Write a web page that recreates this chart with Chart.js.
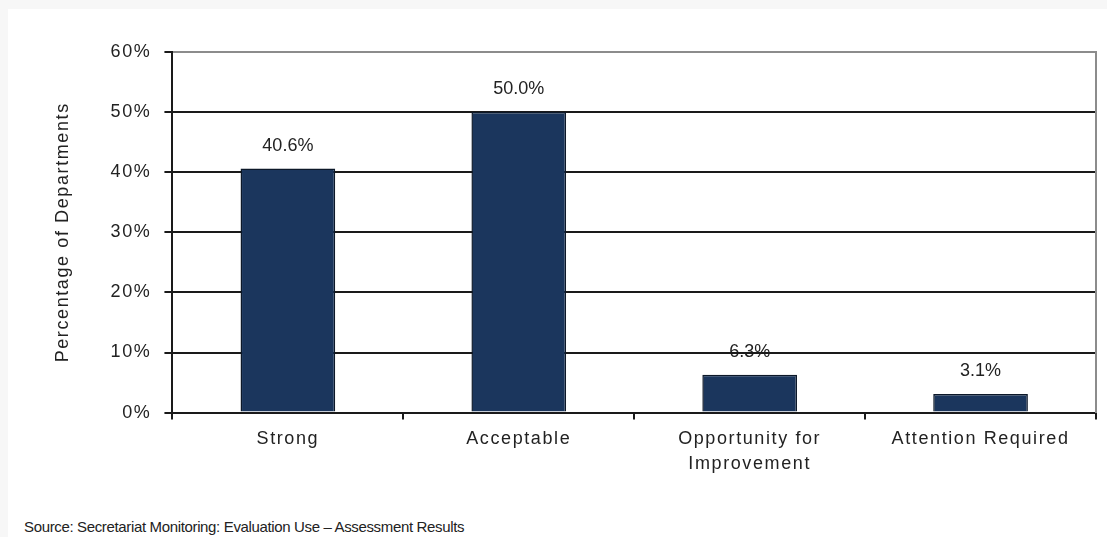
<!DOCTYPE html>
<html>
<head>
<meta charset="utf-8">
<script src="https://cdn.jsdelivr.net/npm/chart.js@4/dist/chart.umd.min.js"></script>
<style>
  html, body { margin: 0; padding: 0; }
  body { width: 1107px; height: 537px; background: #f7f7f7; position: relative; overflow: hidden; font-family: Arial, "Liberation Sans", sans-serif; }
  #panel { position: absolute; left: 8px; top: 9px; right: 0; bottom: 0; background: #fff; }
  #chartBox { position: absolute; left: 0; top: 0; width: 1099px; height: 475px; }
  #source { position: absolute; left: 24px; top: 518px; font-size: 15px; letter-spacing: -0.35px; color: #222; white-space: nowrap; }
</style>
</head>
<body>
<div id="panel">
  <div id="chartBox"><canvas id="ratingChart"></canvas></div>
</div>
<div id="source">Source: Secretariat Monitoring: Evaluation Use – Assessment Results</div>

<script>
const categories = ['Strong', 'Acceptable', ['Opportunity for', 'Improvement'], 'Attention Required'];
const shares = [40.6, 50.0, 6.3, 3.1];
const yMin = 0;
const yMax = 60;
const yStep = 10;

const FONT = 'Arial, "Liberation Sans", sans-serif';

// wide-set axis text, plain value labels
const spacingPlugin = {
  id: 'spacing',
  beforeUpdate(chart) { chart.ctx.letterSpacing = '1.6px'; },
  beforeDraw(chart) {
    const ctx = chart.ctx;
    ctx.letterSpacing = '1.6px';
    // value labels go under the grid lines
    const meta = chart.getDatasetMeta(0);
    ctx.save();
    ctx.letterSpacing = '0px';
    ctx.font = '18px ' + FONT;
    ctx.fillStyle = '#222';
    ctx.textAlign = 'center';
    ctx.textBaseline = 'bottom';
    meta.data.forEach((bar, i) => {
      ctx.fillText(shares[i].toFixed(1) + '%', bar.x, bar.y - 14);
    });
    ctx.restore();
  }
};

new Chart(document.getElementById('ratingChart'), {
  type: 'bar',
  data: {
    labels: categories,
    datasets: [{
      data: shares,
      backgroundColor: '#1b365d',
      borderColor: '#0c1829',
      borderWidth: 1.5,
      barPercentage: 0.41,
      categoryPercentage: 1
    }]
  },
  options: {
    responsive: true,
    maintainAspectRatio: false,
    animation: false,
    layout: { padding: { left: 44, right: 11, top: 43, bottom: 0 } },
    plugins: {
      legend: { display: false },
      tooltip: { enabled: false }
    },
    scales: {
      x: {
        offset: true,
        grid: {
          offset: true,
          drawOnChartArea: false,
          drawTicks: true,
          tickLength: 7,
          color: '#1a1a1a',
          lineWidth: 2
        },
        border: { color: '#1a1a1a', width: 2 },
        ticks: {
          padding: 7,
          color: '#222',
          font: { family: FONT, size: 18, lineHeight: 1.4 },
          maxRotation: 0,
          autoSkip: false
        }
      },
      y: {
        min: yMin,
        max: yMax,
        ticks: {
          stepSize: yStep,
          padding: 13,
          color: '#222',
          font: { family: FONT, size: 18 },
          callback: v => v + '%'
        },
        grid: {
          color: c => (c.tick && c.tick.value === yMax) ? '#8c8c8c' : '#1a1a1a',
          tickColor: '#1a1a1a',
          lineWidth: 2,
          tickLength: 8
        },
        border: { color: '#1a1a1a', width: 2 },
        title: {
          display: true,
          text: 'Percentage of Departments',
          color: '#222',
          font: { family: FONT, size: 18 },
          padding: { top: 0, bottom: 24 }
        }
      },
      y2: {
        axis: 'y',
        position: 'right',
        min: yMin,
        max: yMax,
        ticks: { display: false },
        grid: { drawOnChartArea: false, drawTicks: false },
        border: { color: '#8c8c8c', width: 2 }
      }
    }
  },
  plugins: [spacingPlugin]
});
</script>
</body>
</html>
